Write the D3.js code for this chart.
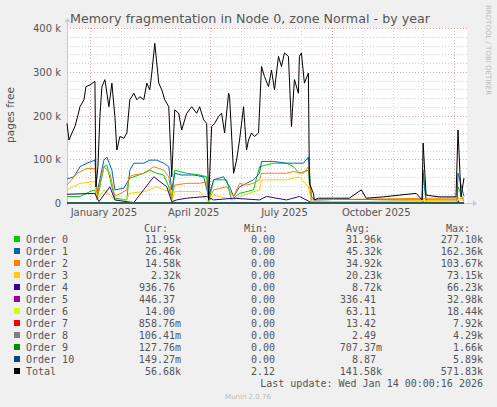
<!DOCTYPE html>
<html><head><meta charset="utf-8">
<script src="https://cdn.jsdelivr.net/npm/d3@7"></script>
<style>body{margin:0;background:#f0f0f0}svg{display:block}</style>
</head><body><svg id="c" width="497" height="407"></svg>
<script>
// day offsets from 2024-12-09, values in k pages
const total=[[0,182],[2,144],[5,160],[8,175],[11,201],[13,220],[17,236],[19,266],[23,270],[28,278],[29,37],[31,83],[33,198],[35,266],[38,282],[42,220],[45,274],[48,198],[50,121],[53,152],[57,148],[60,160],[63,236],[67,251],[70,236],[73,243],[77,236],[80,274],[83,259],[85,297],[88,365],[92,274],[95,259],[98,236],[102,220],[105,60],[108,213],[112,205],[115,167],[120,205],[125,220],[130,205],[133,220],[137,190],[140,182],[142,7],[145,175],[148,182],[152,198],[155,205],[158,160],[162,251],[163,243],[167,68],[170,98],[173,144],[177,220],[180,121],[182,144],[185,160],[188,152],[192,160],[195,312],[198,289],[202,266],[205,304],[208,259],[212,335],[215,312],[218,343],[222,335],[225,175],[228,282],[232,251],[233,335],[235,343],[238,274],[242,297],[243,45],[247,22],[248,7],[252,11],[267,11],[283,11],[295,30],[300,11],[317,14],[333,18],[350,22],[356,7],[357,137],[360,18],[373,14],[390,14],[392,167],[395,14],[398,57]];
const order0=[[0,15],[13,15],[23,26],[28,30],[30,7],[33,37],[37,83],[40,87],[45,37],[48,11],[60,7],[62,56],[67,60],[77,68],[83,75],[90,68],[97,64],[102,37],[105,7],[108,75],[120,68],[133,64],[140,60],[142,3],[147,53],[160,53],[165,7],[173,22],[187,30],[193,83],[207,91],[220,91],[227,83],[233,68],[242,75],[245,3],[267,2],[356,2],[357,75],[360,2],[391,2],[392,37],[398,3]];
const order1=[[0,55],[7,60],[13,83],[20,91],[28,98],[30,22],[37,98],[40,105],[45,75],[48,30],[57,34],[62,53],[63,75],[67,91],[77,91],[83,98],[90,98],[97,91],[102,83],[105,30],[108,68],[115,64],[127,64],[137,60],[142,15],[147,53],[157,60],[163,37],[167,15],[173,37],[180,45],[187,53],[193,68],[195,95],[207,95],[220,91],[227,91],[237,91],[242,105],[245,15],[248,7],[267,8],[300,8],[333,7],[356,7],[357,68],[360,7],[391,7],[392,68],[398,15]];
const order2=[[0,41],[10,68],[20,79],[28,79],[30,15],[37,83],[43,68],[48,15],[60,30],[62,60],[67,64],[77,68],[87,83],[97,75],[102,60],[105,15],[108,41],[120,45],[133,45],[140,49],[142,7],[147,30],[160,37],[167,15],[173,45],[180,41],[187,45],[193,53],[195,68],[207,68],[220,68],[227,72],[237,68],[242,83],[245,7],[267,8],[367,11],[398,11]];
const order3=[[0,30],[13,45],[28,49],[30,7],[37,30],[48,7],[60,7],[62,22],[77,26],[90,37],[102,26],[105,3],[108,26],[133,26],[142,1],[147,18],[167,7],[173,15],[193,30],[195,53],[220,53],[233,60],[242,37],[245,3],[267,2],[398,7]];
const order4=[[0,20],[28,22],[32,3],[43,37],[48,7],[60,3],[67,1],[87,60],[100,37],[105,3],[110,7],[120,11],[140,15],[147,7],[167,11],[193,7],[200,15],[220,7],[233,15],[245,1],[398,1]];
const order5=[[0,0.3],[60,1],[120,0.5],[245,0.2],[398,0.4]];
const order6=[[0,0],[398,0]];
const order7=[[0,0],[398,0]];
const order8=[[0,0],[398,0]];
const order9=[[0,0],[398,0]];
const order10=[[0,0],[357,0],[357.5,3],[358,0],[392,0],[392.5,5],[393,0],[398,0]];
const names=["Order 0","Order 1","Order 2","Order 3","Order 4","Order 5","Order 6","Order 7","Order 8","Order 9","Order 10","Total"];
const colors=["#00cc00","#0066b3","#ff8000","#ffcc00","#330099","#990099","#ccff00","#ff0000","#808080","#008f00","#00487d","#000000"];
const curV=["11.95k","26.46k","14.58k","2.32k","936.76","446.37","14.00","858.76m","106.41m","127.76m","149.27m","56.68k"];
const minV=["0.00","0.00","0.00","0.00","0.00","0.00","0.00","0.00","0.00","0.00","0.00","2.12"];
const avgV=["31.96k","45.32k","34.92k","20.23k","8.72k","336.41","63.11","13.42","2.49","707.37m","8.87","141.58k"];
const maxV=["277.10k","162.36k","103.67k","73.15k","66.23k","32.98k","18.44k","7.92k","4.29k","1.66k","5.89k","571.83k"];
const yTicks=[0,100,200,300,400];
const xLabels=[["January 2025",new Date(2025,0,15)],["April 2025",new Date(2025,3,15)],["July 2025",new Date(2025,6,15)],["October 2025",new Date(2025,9,15)]];
const series=[order0,order1,order2,order3,order4,order5,order6,order7,order8,order9,order10,total];

const svg=d3.select("#c");
const L=67,R=467,T=28,B=203;
const t0=new Date(2024,11,9);
const x=d3.scaleTime().domain([t0,new Date(2026,0,14)]).range([L,R]);
const y=d3.scaleLinear().domain([0,400]).range([B,T]);
const day=d=>t0.getTime()+d*864e5;
svg.append("rect").attr("x",L).attr("y",T).attr("width",R-L).attr("height",B-T).attr("fill","#fff");
const g=svg.append("g");
d3.range(0,401,20).forEach(v=>{g.append("line").attr("x1",L).attr("x2",R).attr("y1",Math.round(y(v))+.5).attr("y2",Math.round(y(v))+.5)
 .attr("stroke",v%100===0?"#e8a0a0":"#d0d0d0").attr("stroke-dasharray","1,2").attr("stroke-width",1);});
const months=d3.timeMonth.range(new Date(2025,0,1),new Date(2026,0,14));
months.forEach((m,i)=>{const xx=Math.round(x(m))+.5;g.append("line").attr("x1",xx).attr("x2",xx).attr("y1",T).attr("y2",B)
 .attr("stroke",i%4===0?"#e8a0a0":"#d0d0d0").attr("stroke-dasharray","1,2");});
svg.append("line").attr("x1",L).attr("x2",R+6).attr("y1",B+.5).attr("y2",B+.5).attr("stroke","#c0c8f0");
svg.append("line").attr("x1",L+.5).attr("x2",L+.5).attr("y1",B+3).attr("y2",T-6).attr("stroke","#c0c8f0");
svg.append("path").attr("d",`M${R+6},${B-2.5}L${R+10},${B+.5}L${R+6},${B+3.5}Z`).attr("fill","#c0c8f0");
svg.append("path").attr("d",`M${L-2.5},${T-6}L${L+.5},${T-10}L${L+3.5},${T-6}Z`).attr("fill","#c0c8f0");
const line=d3.line().x(d=>x(new Date(day(d[0])))).y(d=>y(d[1]));
series.forEach((s,i)=>svg.append("path").attr("d",line(s)).attr("fill","none").attr("stroke",colors[i]).attr("stroke-width",1));
const f="DejaVu Sans, sans-serif", mono="DejaVu Sans Mono, monospace";
yTicks.forEach(v=>svg.append("text").attr("x",61).attr("y",y(v)+4).attr("text-anchor","end").attr("font-family",f).attr("font-size",10).attr("fill","#555").text(v===0?"0":v+" k"));
xLabels.forEach(([t,d])=>svg.append("text").attr("x",x(d)).attr("y",216).attr("text-anchor","middle").attr("font-family",f).attr("font-size",10).attr("fill","#555").text(t));
svg.append("text").attr("x",70).attr("y",23).attr("font-family",f).attr("font-size",12.7).attr("fill","#555").text("Memory fragmentation in Node 0, zone Normal - by year");
svg.append("text").attr("transform","translate(14,115) rotate(-90)").attr("text-anchor","middle").attr("font-family",f).attr("font-size",10.5).attr("fill","#555").text("pages free");
svg.append("text").attr("transform","translate(486,5) rotate(90)").attr("font-family",f).attr("font-size",7).attr("fill","#bbb").text("RRDTOOL / TOBI OETIKER");
const txt=(xx,yy,s,a)=>svg.append("text").attr("x",xx).attr("y",yy).attr("text-anchor",a||"start").attr("font-family",mono).attr("font-size",10).attr("fill","#555").text(s);
txt(168,232,"Cur:","end");txt(268,232,"Min:","end");txt(370,232,"Avg:","end");txt(470,232,"Max:","end");
const hasU=s=>/[km]$/.test(s);
names.forEach((n,i)=>{const yy=243+i*12;
 svg.append("rect").attr("x",14).attr("y",yy-7).attr("width",6).attr("height",6).attr("fill",colors[i]);
 txt(26,yy,n);
 txt(hasU(curV[i])?181:175,yy,curV[i],"end");
 txt(275,yy,minV[i],"end");
 txt(hasU(avgV[i])?382:376,yy,avgV[i],"end");
 txt(483,yy,maxV[i],"end");});
txt(483,387,"Last update: Wed Jan 14 00:00:16 2026","end");
svg.append("text").attr("x",248).attr("y",399).attr("text-anchor","middle").attr("font-family",f).attr("font-size",7).attr("fill","#bbb").text("Munin 2.0.76");
</script></body></html>
